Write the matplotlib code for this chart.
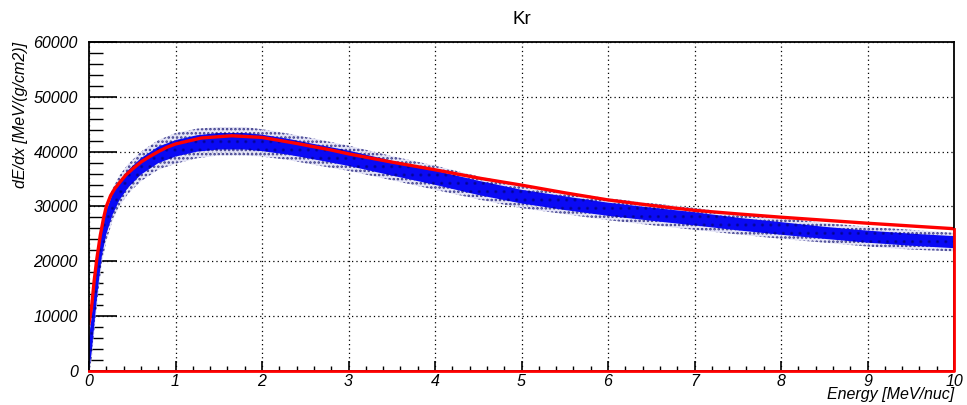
import matplotlib.pyplot as plt
from matplotlib.ticker import MultipleLocator

plt.rcParams['font.family'] = ['Liberation Sans', 'DejaVu Sans']
plt.rcParams['hatch.linewidth'] = 1.2

# red curve (calculated dE/dx)
calc_energy = [0, 0.03, 0.06, 0.09, 0.13, 0.17, 0.2, 0.25, 0.3, 0.36, 0.43, 0.5, 0.6,
               0.7, 0.8, 0.9, 1.0, 1.3, 1.65, 2.0, 2.4, 2.8, 3.0, 3.5, 4.0, 4.5,
               5.0, 5.5, 6.0, 6.5, 7.0, 7.5, 8.0, 8.5, 9.0, 9.5, 10.0]
calc_dedx = [8700, 11700, 16500, 20400, 24700, 28000, 30000, 32000, 33300, 34500,
             35800, 36800, 38100, 39100, 40000, 40800, 41400, 42500, 42900, 42600,
             41500, 40300, 39600, 38100, 36700, 35200, 33900, 32500, 31200, 30200,
             29300, 28650, 28050, 27500, 26950, 26450, 25950]

# blue band (measured points): centre and half widths of the cloud
meas_energy = [0, 0.03, 0.06, 0.09, 0.12, 0.15, 0.2, 0.27, 0.35, 0.45, 0.6, 0.8,
               1.0, 1.25, 1.5, 1.8, 2.0, 2.3, 2.6, 3.0, 3.5, 4.0, 4.5, 5.0, 5.5,
               6.0, 6.5, 7.0, 7.5, 8.0, 8.5, 9.0, 9.5, 10.0]
meas_centre = [3000, 6500, 11500, 16000, 20000, 23500, 27000, 30300, 32800, 35000,
               37300, 39400, 40600, 41500, 41900, 41900, 41600, 40900, 40000, 38800,
               37000, 35250, 33400, 31800, 30600, 29500, 28600, 27750, 26800, 26000,
               25200, 24500, 23950, 23500]
meas_core = [3000, 3200, 3200, 3000, 2700, 2400, 2100, 1900, 1700, 1600, 1500, 1500,
             1500, 1500, 1500, 1500, 1500, 1450, 1400, 1400, 1350, 1300, 1300, 1250,
             1250, 1200, 1200, 1200, 1150, 1150, 1100, 1100, 1100, 1100]
meas_fringe = [4200, 4500, 4500, 4300, 4000, 3700, 3300, 3000, 2800, 2700, 2700, 2700,
               2800, 2700, 2600, 2600, 2500, 2400, 2400, 2300, 2200, 2200, 2100, 2100,
               2000, 2000, 2000, 2000, 1900, 1900, 1800, 1800, 1800, 1700]

fig = plt.figure(figsize=(9.67, 4.05), dpi=100)
ax = fig.add_axes([89/967, 34/405, 865/967, 329/405])

lo_f = [c - w for c, w in zip(meas_centre, meas_fringe)]
hi_f = [c + w for c, w in zip(meas_centre, meas_fringe)]
lo_c = [c - w for c, w in zip(meas_centre, meas_core)]
hi_c = [c + w for c, w in zip(meas_centre, meas_core)]

# sparse outer cloud
ax.fill_between(meas_energy, lo_f, hi_f, facecolor='#dcdcf4', edgecolor='none',
                alpha=0.8, zorder=2)
ax.fill_between(meas_energy, lo_f, hi_f, facecolor='none', edgecolor='#3a3a8a',
                hatch='....', linewidth=0, zorder=2)
# dense core
ax.fill_between(meas_energy, lo_c, hi_c, facecolor='#0a0af5', edgecolor='none',
                zorder=3)
ax.fill_between(meas_energy, lo_c, hi_c, facecolor='none', edgecolor='#000030',
                hatch='..', linewidth=0, alpha=0.3, zorder=3)

ax.plot(calc_energy, calc_dedx, color='#ff0000', lw=2.4, zorder=4)
# graph closes along the frame
ax.plot([calc_energy[-1], calc_energy[-1], calc_energy[0]],
        [calc_dedx[-1], 0, 0], color='#ff0000', lw=2.0, zorder=6, clip_on=False)

ax.set_xlim(0, 10)
ax.set_ylim(0, 60000)
ax.xaxis.set_major_locator(MultipleLocator(1))
ax.xaxis.set_minor_locator(MultipleLocator(0.2))
ax.yaxis.set_major_locator(MultipleLocator(10000))
ax.yaxis.set_minor_locator(MultipleLocator(2000))

ax.grid(True, which='major', color='black', linestyle=(0, (1, 2.5)), lw=0.9, zorder=1)
ax.tick_params(axis='x', which='major', direction='in', length=7, width=1.2,
               top=False, pad=2, labelsize=11.5)
ax.tick_params(axis='x', which='minor', direction='in', length=3.6, width=1,
               top=False)
ax.tick_params(axis='y', which='major', direction='in', length=20, width=1.2,
               right=False, pad=8, labelsize=11.5)
ax.tick_params(axis='y', which='minor', direction='in', length=10, width=1,
               right=False)
for lab in ax.get_xticklabels() + ax.get_yticklabels():
    lab.set_fontstyle('italic')

for sp in ax.spines.values():
    sp.set_linewidth(1.3)
    sp.set_zorder(5)

ax.set_xlabel('Energy [MeV/nuc]', loc='right', fontsize=11.5, fontstyle='italic')
ax.xaxis.set_label_coords(1.0, -0.05)
ax.set_ylabel('dE/dx [MeV/(g/cm2)]', loc='top', fontsize=11.5, fontstyle='italic')
ax.yaxis.set_label_coords(-0.0705, 1.0)

fig.text(521.5/967, 1 - 20/405, 'Kr', ha='center', va='center', fontsize=13.5)

fig.savefig('out.png', dpi=100)
